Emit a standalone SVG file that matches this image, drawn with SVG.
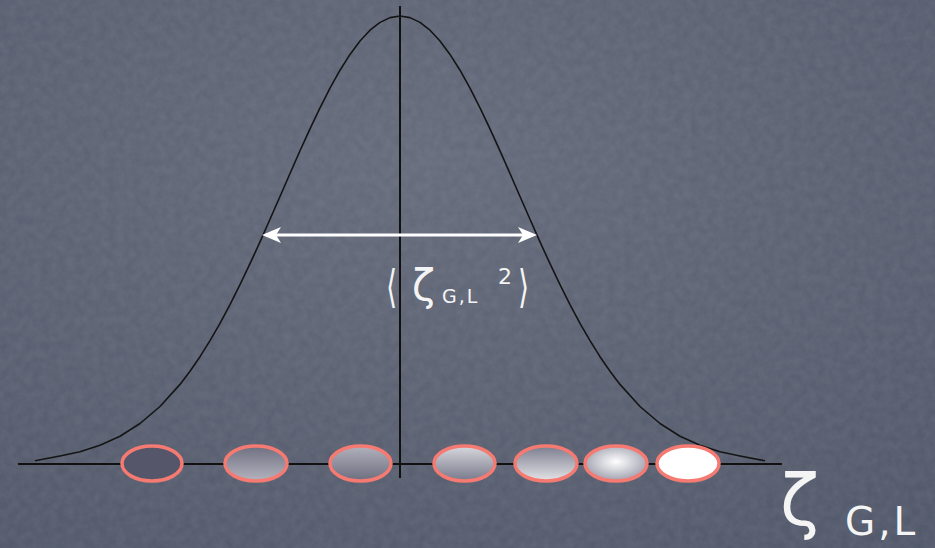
<svg xmlns="http://www.w3.org/2000/svg" width="935" height="548" viewBox="0 0 935 548">
<defs>
<style>
.axis{stroke:#111;stroke-width:2;fill:none}
.curve{stroke:#151515;stroke-width:1.6;fill:none;stroke-linejoin:round}
.bead{stroke:#f47a72;stroke-width:3.5}
.lbl{fill:#f4f4f4;font-family:"DejaVu Sans",sans-serif}
.arr{stroke:#fff;stroke-width:3;fill:none}
</style>
<radialGradient id="bg" cx="0.45" cy="0.3" r="0.85">
<stop offset="0" stop-color="#636979"/>
<stop offset="1" stop-color="#4f5668"/>
</radialGradient>
<filter id="noise" x="0" y="0" width="1" height="1">
<feTurbulence type="fractalNoise" baseFrequency="0.12" numOctaves="3" seed="5"/>
<feColorMatrix type="matrix" values="0 0 0 0 1  0 0 0 0 1  0 0 0 0 1  0 0 0 0.09 0"/>
</filter>
<linearGradient id="g2" x1="0" y1="0" x2="0" y2="1">
<stop offset="0" stop-color="#6e6f80"/>
<stop offset="1" stop-color="#b4b4c0"/>
</linearGradient>
<linearGradient id="g3" x1="0" y1="0" x2="0" y2="1">
<stop offset="0" stop-color="#b2b2bd"/>
<stop offset="1" stop-color="#6c6d7e"/>
</linearGradient>
<linearGradient id="g4" x1="0" y1="0" x2="0" y2="1">
<stop offset="0" stop-color="#d8d8de"/>
<stop offset="1" stop-color="#77788a"/>
</linearGradient>
<linearGradient id="g5" x1="0" y1="0" x2="0" y2="1">
<stop offset="0" stop-color="#7c7d8e"/>
<stop offset="1" stop-color="#e4e4e8"/>
</linearGradient>
<radialGradient id="g6" cx="0.5" cy="0.45" r="0.55">
<stop offset="0" stop-color="#ffffff"/>
<stop offset="1" stop-color="#9fa0ae"/>
</radialGradient>
<marker id="ah" viewBox="0 0 20 20" refX="15" refY="10" markerWidth="20" markerHeight="20" markerUnits="userSpaceOnUse" orient="auto-start-reverse">
<path d="M0,2 L19,10 L0,18 L5,10 Z" fill="#fff"/>
</marker>
</defs>
<rect width="935" height="548" fill="url(#bg)"/>
<rect width="935" height="548" filter="url(#noise)"/>
<line class="axis" x1="18" y1="464" x2="782" y2="464"/>
<line class="axis" x1="400" y1="6" x2="400" y2="478"/>
<path class="curve" d="M35,460.8 L60,456 L80,451.7 L100,445.3 L120,436.2 L140,423.5 L160,406.5 L180,384.4 L190,371.3 L200,356.7 L210,340.7 L220,323.4 L230,304.6 L240,284.7 L250,263.7 L260,241.9 L270,219.3 L280,196.5 L290,173.5 L300,150.8 L310,128.8 L320,107.8 L330,88.1 L340,70.2 L350,54.4 L360,41 L370,30.2 L380,22.4 L390,17.6 L400,16 L410,17.6 L420,22.4 L430,30.2 L440,41 L450,54.4 L460,70.2 L470,88.1 L480,107.8 L490,128.8 L500,150.8 L510,173.5 L520,196.5 L530,219.3 L540,241.9 L550,263.7 L560,284.7 L570,304.6 L580,323.4 L590,340.7 L600,356.7 L610,371.3 L620,384.4 L640,406.5 L660,423.5 L680,436.2 L700,445.3 L720,451.7 L740,456 L765,460.8"/>
<g id="connectors">
<line class="arr" x1="266" y1="235" x2="533" y2="235" marker-start="url(#ah)" marker-end="url(#ah)"/>
</g>
<g id="bead1"><ellipse class="bead" cx="152" cy="463.5" rx="30" ry="17.5" fill="#56566a"/></g>
<g id="bead2"><ellipse class="bead" cx="256" cy="463.5" rx="31" ry="17.5" fill="url(#g2)"/></g>
<g id="bead3"><ellipse class="bead" cx="360.5" cy="463.5" rx="30.5" ry="17.5" fill="url(#g3)"/></g>
<g id="bead4"><ellipse class="bead" cx="464.5" cy="463.5" rx="30.5" ry="17.5" fill="url(#g4)"/></g>
<g id="bead5"><ellipse class="bead" cx="546" cy="463.5" rx="31" ry="17.5" fill="url(#g5)"/></g>
<g id="bead6"><ellipse class="bead" cx="616" cy="463.5" rx="31" ry="17.5" fill="url(#g6)"/></g>
<g id="bead7"><ellipse class="bead" cx="688" cy="463.5" rx="31" ry="17.5" fill="#ffffff"/></g>
<g id="width-label">
<text class="lbl" font-size="44" transform="translate(386,302) scale(0.65,1.02)">⟨</text>
<text class="lbl" x="412" y="300" font-size="42">ζ</text>
<text class="lbl" x="442" y="303" font-size="19" letter-spacing="2">G,L</text>
<text class="lbl" x="498" y="284" font-size="22">2</text>
<text class="lbl" font-size="44" transform="translate(518,302) scale(0.65,1.02)">⟩</text>
</g>
<g id="axis-label">
<text class="lbl" x="780" y="525" font-size="72">ζ</text>
<text class="lbl" x="845" y="535" font-size="39" letter-spacing="3">G,L</text>
</g>
</svg>
